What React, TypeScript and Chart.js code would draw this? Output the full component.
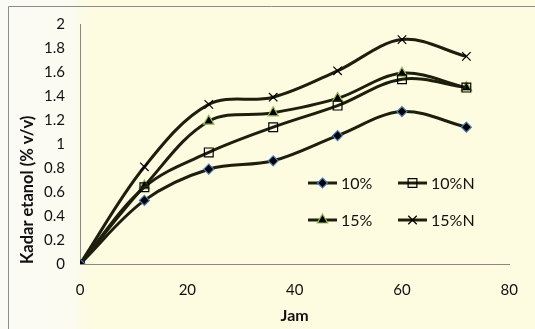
import React, { useEffect, useRef } from "react";
import { Chart, registerables } from "chart.js";

Chart.register(...registerables);

// Sampling times (hours)
const jam = [0, 12, 24, 36, 48, 60, 72];

// Ethanol content (% v/v) per treatment
const s10 = [0, 0.53, 0.79, 0.86, 1.07, 1.27, 1.14];
const s10N = [0, 0.64, 0.93, 1.14, 1.32, 1.54, 1.47];
const s15 = [0, 0.65, 1.19, 1.26, 1.38, 1.59, 1.47];
const s15N = [0, 0.81, 1.33, 1.39, 1.61, 1.87, 1.73];

const seriesNames = ["10%", "10%N", "15%", "15%N"];

const LINE = "#1e1e0c";
const BG = "#fdfbe0";

type Marker = {
  style: string;
  radius: number;
  fill: string;
  stroke: string;
};

const markers: Marker[] = [
  { style: "rectRot", radius: 5, fill: "#000000", stroke: "#4a7ebb" },
  { style: "rect", radius: 6.2, fill: "rgba(0,0,0,0)", stroke: "#000000" },
  { style: "triangle", radius: 6, fill: "#000000", stroke: "#9bbb59" },
  { style: "crossRot", radius: 6, fill: "#000000", stroke: "#000000" },
];

function drawMarker(ctx: CanvasRenderingContext2D, m: Marker, x: number, y: number) {
  ctx.save();
  ctx.fillStyle = m.fill;
  ctx.strokeStyle = m.stroke;
  ctx.lineWidth = 1.2;
  const r = m.radius;
  ctx.beginPath();
  if (m.style === "rectRot") {
    ctx.moveTo(x, y - r);
    ctx.lineTo(x + r, y);
    ctx.lineTo(x, y + r);
    ctx.lineTo(x - r, y);
    ctx.closePath();
    ctx.fill();
    ctx.stroke();
  } else if (m.style === "rect") {
    const s = r * Math.SQRT1_2;
    ctx.rect(x - s, y - s, 2 * s, 2 * s);
    ctx.stroke();
  } else if (m.style === "triangle") {
    ctx.moveTo(x, y - r);
    ctx.lineTo(x + r * 0.87, y + r * 0.5);
    ctx.lineTo(x - r * 0.87, y + r * 0.5);
    ctx.closePath();
    ctx.fill();
    ctx.stroke();
  } else {
    const s = r * Math.SQRT1_2;
    ctx.moveTo(x - s, y - s);
    ctx.lineTo(x + s, y + s);
    ctx.moveTo(x + s, y - s);
    ctx.lineTo(x - s, y + s);
    ctx.stroke();
  }
  ctx.restore();
}

const backgroundPlugin = {
  id: "pageBackground",
  beforeDraw(chart: any) {
    const { ctx, width, height } = chart;
    ctx.save();
    const g = ctx.createLinearGradient(0, 0, 90, 0);
    g.addColorStop(0, "#fbfbf6");
    g.addColorStop(0.8, "#fbfbf0");
    g.addColorStop(1, BG);
    ctx.fillStyle = g;
    ctx.fillRect(0, 0, width, height);
    ctx.strokeStyle = "#8c8c8c";
    ctx.lineWidth = 1;
    ctx.beginPath();
    ctx.moveTo(8.5, height);
    ctx.lineTo(8.5, 6.5);
    ctx.lineTo(width, 6.5);
    ctx.stroke();
    ctx.restore();
  },
};

const legendPlugin = {
  id: "innerLegend",
  afterDatasetsDraw(chart: any) {
    const { ctx, chartArea } = chart;
    const cols = [chartArea.left + 228, chartArea.left + 318];
    const rows = [chartArea.top + 159, chartArea.top + 196];
    ctx.save();
    ctx.font = "16px Lato";
    ctx.textBaseline = "middle";
    seriesNames.forEach((name, i) => {
      const x = cols[i % 2];
      const y = rows[Math.floor(i / 2)];
      ctx.strokeStyle = LINE;
      ctx.lineWidth = 3;
      ctx.beginPath();
      ctx.moveTo(x, y);
      ctx.lineTo(x + 29, y);
      ctx.stroke();
      drawMarker(ctx, markers[i], x + 14.5, y);
      ctx.fillStyle = "#111111";
      ctx.fillText(name, x + 33, y + 1);
    });
    ctx.restore();
  },
};

export default function App() {
  const ref = useRef<HTMLCanvasElement | null>(null);

  useEffect(() => {
    document.body.style.margin = "0";
    const canvas = ref.current;
    if (!canvas) return;
    const all = [s10, s10N, s15, s15N];
    const chart = new Chart(canvas, {
      type: "line",
      data: {
        datasets: all.map((vals, i) => ({
          label: seriesNames[i],
          data: vals.map((v, k) => ({ x: jam[k], y: v })),
          borderColor: LINE,
          borderWidth: 3,
          tension: 0.35,
          fill: false,
          pointStyle: markers[i].style as any,
          pointRadius: markers[i].radius,
          pointBackgroundColor: markers[i].fill,
          pointBorderColor: markers[i].stroke,
          pointBorderWidth: 1.2,
        })),
      },
      options: {
        responsive: false,
        animation: false,
        layout: { padding: { left: 8, top: 24, right: 13, bottom: 0 } },
        plugins: {
          legend: { display: false },
          tooltip: { enabled: false },
        },
        scales: {
          x: {
            type: "linear",
            min: 0,
            max: 80,
            afterFit: (s: any) => {
              s.height = 65;
            },
            ticks: {
              stepSize: 20,
              padding: 17,
              color: "#111111",
              font: { family: "Lato", size: 15 },
            },
            grid: { display: false, drawTicks: false },
            border: { display: true, color: "#8a8a80", width: 1 },
            title: {
              display: true,
              text: "Jam",
              color: "#111111",
              font: { family: "Lato", size: 16, weight: "bold" },
              padding: { top: 0, bottom: 4 },
            },
          },
          y: {
            min: 0,
            max: 2,
            afterFit: (s: any) => {
              s.width = 72;
            },
            ticks: {
              stepSize: 0.2,
              padding: 15,
              color: "#111111",
              font: { family: "Lato", size: 15 },
              callback: (v: any) => String(Math.round(Number(v) * 10) / 10),
            },
            grid: { display: false, drawTicks: false },
            border: { display: true, color: "#8a8a80", width: 1 },
            title: {
              display: true,
              text: "Kadar etanol (% v/v)",
              align: "start",
              color: "#111111",
              font: { family: "Lato", size: 16.5, weight: "bold" },
              padding: { top: 10, bottom: 0 },
            },
          },
        },
      },
      plugins: [backgroundPlugin, legendPlugin],
    });
    return () => chart.destroy();
  }, []);

  return <canvas ref={ref} width={535} height={329} style={{ display: "block" }} />;
}
